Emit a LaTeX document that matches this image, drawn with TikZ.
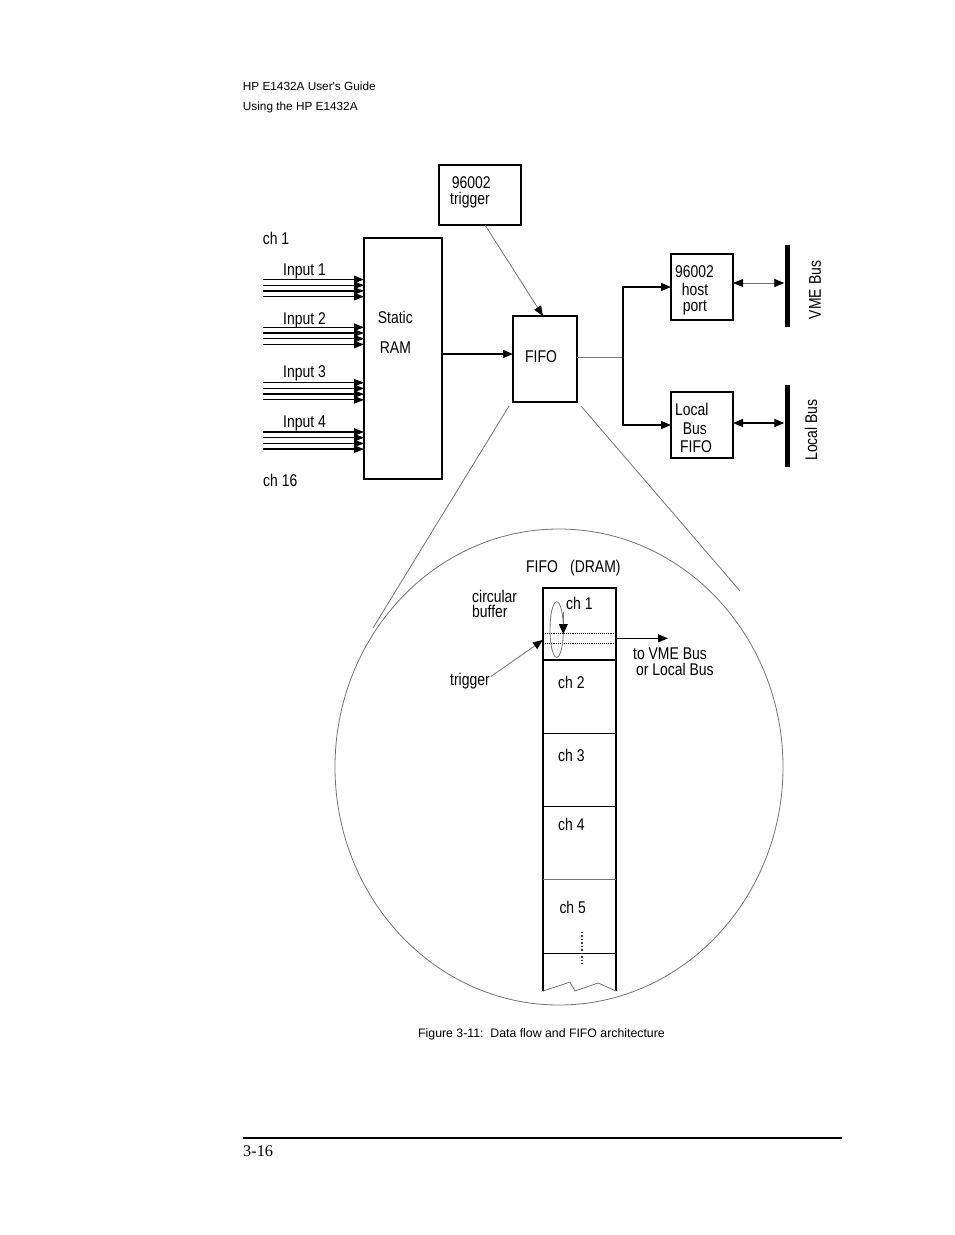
\documentclass[tikz,border=0pt]{standalone}
\usepackage{fontspec}
\setmainfont{Liberation Sans}
\newfontfamily\cond[FakeStretch=0.82]{Liberation Sans}
\newfontfamily\hdr{Liberation Sans}
\newfontfamily\pgserif{Liberation Serif}
\usetikzlibrary{arrows.meta,calc}
\definecolor{thinc}{gray}{0.45}
\begin{document}
\begin{tikzpicture}[x=1pt,y=-1pt,
  box/.style={draw, line width=1.3pt, inner sep=0pt, outer sep=0pt},
  txt/.style={font=\cond\fontsize{17}{20}\selectfont, inner sep=0pt, anchor=base west},
  blk/.style={line width=1.3pt},
  thn/.style={line width=0.8pt, draw=thinc},
  tip/.style={-{Triangle[length=10pt,width=8pt,color=black]}},
  dtip/.style={{Triangle[length=10pt,width=8pt,color=black]}-{Triangle[length=10pt,width=8pt,color=black]}},
  intip/.style={-{Triangle[length=10pt,width=7.5pt,color=black]}},
  bar/.style={fill=black, inner sep=0pt, minimum width=5pt, minimum height=82pt},
]
\useasboundingbox (0,0) rectangle (954,1235);

% header
\node[font=\hdr\fontsize{11.8}{14}\selectfont, inner sep=0pt, anchor=base west] (h1) at (242.7,90.7) {HP E1432A User's Guide};
\node[font=\hdr\fontsize{11.8}{14}\selectfont, inner sep=0pt, anchor=base west] (h2) at (242.7,110.7) {Using the HP E1432A};

% boxes
\node[box, minimum width=78pt, minimum height=241pt] (ram) at (403,358.5) {};
\node[box, minimum width=64pt, minimum height=86pt] (fifo) at (545,359) {};
\node[box, minimum width=82pt, minimum height=60pt] (trig) at (480,195) {};
\node[box, minimum width=62pt, minimum height=66pt] (host) at (702,287) {};
\node[box, minimum width=62pt, minimum height=66pt] (lbf) at (702,425) {};
\node[bar] (vme) at (787,286) {};
\node[bar] (lbus) at (787,426) {};

% texts upper part
\node[txt] (ch1) at (262.7,244) {ch 1};
\node[txt] (ch16) at (263,486) {ch 16};
\node[txt] (in1) at (283,275) {Input 1};
\node[txt] (in2) at (283,324) {Input 2};
\node[txt] (in3) at (283,377) {Input 3};
\node[txt] (in4) at (283,427) {Input 4};
\node[txt] (static) at (377.7,323) {Static};
\node[txt] (ramt) at (379.7,353) {RAM};
\node[txt] (fifot) at (525,362) {FIFO};
\node[txt] (t1) at (451.7,188) {96002};
\node[txt] (t2) at (450,204) {trigger};
\node[txt] (hp1) at (675,277) {96002};
\node[txt] (hp2) at (681.7,295.7) {host};
\node[txt] (hp3) at (682.7,311) {port};
\node[txt] (lb1) at (675,415) {Local};
\node[txt] (lb2) at (682.7,434.3) {Bus};
\node[txt] (lb3) at (680,452.3) {FIFO};
\node[txt, rotate=90, anchor=center] (vmet) at (815,290) {VME Bus};
\node[txt, rotate=90, anchor=center] (lbt) at (811,430) {Local Bus};

% input lines
\foreach \g/\y in {1/279.5, 2/327.3, 3/382.7, 4/432}{
  \foreach \k in {0,1,2,3}{
    \coordinate (i\g\k) at (263, \y+5.7*\k);
    \draw[blk, intip] (i\g\k) -- (i\g\k -| ram.west);
  }
}

% connectors
\draw[blk, tip] ($(ram.east)+(0,-4.5)$) -- ($(fifo.west)+(0,-5)$);
\draw[thn, tip] ($(trig.south)+(5,0)$) -- ($(fifo.north)+(-2,0)$);
\coordinate (split) at (623,357);
\draw[thn] ($(fifo.east)+(0,-2)$) -- (split);
\draw[blk, tip] (split) |- (host.west);
\draw[blk, tip] (split) |- (lbf.west);
\draw[thn, dtip] ($(host.east)+(0,-4)$) coordinate (ha) -- (ha -| vme.west);
\draw[blk, dtip] ($(lbf.east)+(0,-2)$) coordinate (la) -- (la -| lbus.west);

% zoom lines and big ellipse
\coordinate (zl) at (373,628);
\coordinate (zr) at (740,591);
\draw[thn] ($(fifo.south west)+(-4,4)$) -- (zl);
\draw[thn] ($(fifo.south east)+(4,4)$) -- (zr);
\draw[thn] (559,767) ellipse [x radius=224pt, y radius=238pt];

% FIFO (DRAM) column
\node[txt] (ffd) at (526,572) {FIFO};
\node[txt] (dram) at (570,572) {(DRAM)};
\draw[blk] (543,991) -- (543,588) -- (616,588) -- (616,991);
\foreach \yy in {660,733.3,806.7,953.3} \draw[blk] (543,\yy) -- (616,\yy);
\draw[thn] (543,879.3) -- (616,879.3);
\draw[thn] (543,991) -- (570,982) -- (575,991) -- (598,983) -- (616,991);
\draw[line width=0.9pt, densely dotted] (543,633) -- (616,633);
\draw[line width=0.9pt, densely dotted] (543,643) -- (616,643);
\draw[line width=1.6pt, dash pattern=on 1.5pt off 2pt, draw=darkgray] (582,931.7) -- (582,964);

\node[txt] (circ1) at (472,602) {circular};
\node[txt] (circ2) at (472,617) {buffer};
\node[txt] (c1) at (566,609) {ch 1};
\node[txt] (c2) at (558,688) {ch 2};
\node[txt] (c3) at (558,761.7) {ch 3};
\node[txt] (c4) at (558,830) {ch 4};
\node[txt] (c5) at (559.3,913) {ch 5};
\node[txt] (tovme) at (633,659) {to VME Bus};
\node[txt] (orlb) at (636,675) {or Local Bus};
\node[txt] (trg) at (450,685) {trigger};

\draw[thn] (556.7,629.5) ellipse [x radius=6.7pt, y radius=27.8pt];
\draw[thn, -{Triangle[length=10pt,width=9pt,color=black]}] (563.3,612) -- (563.3,634);
\coordinate (trgpt) at (543,640);
\draw[thn, tip] ($(trg.north east)+(1,4)$) -- (trgpt);
\coordinate (outs) at (616,638.3);
\coordinate (oute) at (668,638.3);
\draw[blk, tip] (outs) -- (oute);

% caption and footer
\node[font=\hdr\fontsize{12.3}{14}\selectfont, inner sep=0pt, anchor=base west] (cap) at (418,1037) {Figure 3-11:\ \ Data flow and FIFO architecture};
\coordinate (rl) at (243,1138);
\coordinate (rr) at (842,1138);
\draw[line width=1.3pt] (rl) -- (rr);
\node[font=\pgserif\fontsize{16.3}{18}\selectfont, inner sep=0pt, anchor=base west] (pg) at (243,1156.5) {3-16};
\end{tikzpicture}
\end{document}
